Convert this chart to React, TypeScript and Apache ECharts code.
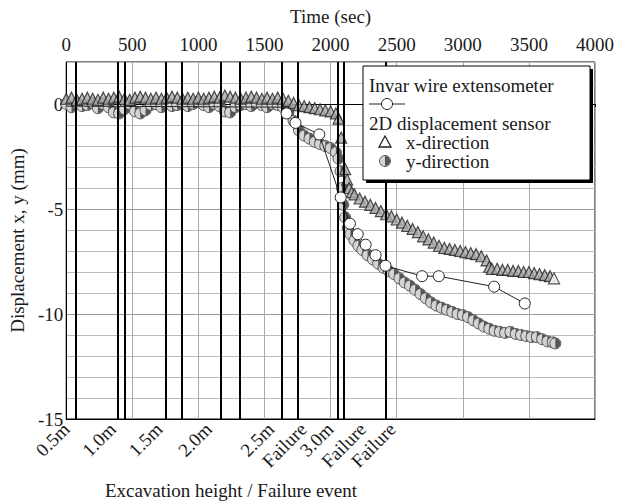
import React, { useEffect, useRef } from "react";
import * as echarts from "echarts";

const FONT = '"Liberation Serif", "Times New Roman", serif';
const TXT = "#1a1a1a";

// Top axis (time) ticks
const timeTicks = [0, 500, 1000, 1500, 2000, 2500, 3000, 3500, 4000];

// Excavation / failure event lines (time, sec)
const eventLineTimes = [75, 386, 441, 755, 872, 1171, 1316, 1628, 1750, 2056, 2099, 2417];

// Bottom-axis labels (time position, text)
const eventLabelTimes = [0, 351, 703, 1077, 1548, 1794, 1996, 2243, 2467];
const eventLabelTexts = ["0.5m", "1.0m", "1.5m", "2.0m", "2.5m", "Failure", "3.0m", "Failure", "Failure"];

// 2D displacement sensor, x-direction [time, mm]
const xDirection: number[][] = [
  [0, 0.25], [40, 0.3], [80, 0.2], [120, 0.25], [160, 0.3], [200, 0.25], [240, 0.2], [280, 0.3],
  [320, 0.25], [360, 0.3], [400, 0.35], [440, 0.25], [480, 0.2], [520, 0.3], [560, 0.35], [600, 0.3],
  [640, 0.25], [680, 0.3], [720, 0.25], [760, 0.3], [800, 0.35], [840, 0.3], [880, 0.25], [920, 0.3],
  [960, 0.25], [1000, 0.3], [1040, 0.25], [1080, 0.3], [1120, 0.35], [1160, 0.3], [1200, 0.4], [1240, 0.35],
  [1280, 0.3], [1320, 0.25], [1360, 0.3], [1400, 0.35], [1440, 0.3], [1480, 0.25], [1520, 0.3], [1560, 0.25],
  [1600, 0.3], [1640, 0.25], [1680, 0.15], [1720, 0.05], [1760, -0.05], [1800, -0.1], [1840, -0.15], [1880, -0.2],
  [1920, -0.25], [1960, -0.3], [2000, -0.35], [2040, -0.45], [2060, -0.7], [2080, -1.6], [2110, -3.1],
  [2125, -3.6], [2140, -4.0], [2160, -4.2], [2180, -4.3], [2220, -4.5], [2260, -4.65], [2300, -4.8],
  [2340, -4.95], [2380, -5.1], [2420, -5.25], [2460, -5.35], [2500, -5.5], [2540, -5.65], [2580, -5.8],
  [2620, -5.95], [2660, -6.1], [2700, -6.3], [2740, -6.45], [2780, -6.6], [2820, -6.75], [2860, -6.85],
  [2900, -6.9], [2940, -6.95], [2980, -7.0], [3020, -7.05], [3060, -7.1], [3100, -7.15], [3140, -7.25],
  [3180, -7.45], [3200, -7.75], [3220, -7.85], [3260, -7.85], [3300, -7.9], [3340, -7.9], [3380, -7.95],
  [3420, -7.95], [3460, -8.0], [3500, -8.0], [3540, -8.05], [3580, -8.1], [3620, -8.15], [3660, -8.2],
  [3690, -8.3],
];

// 2D displacement sensor, y-direction [time, mm]
const yDirection: number[][] = [
  [0, 0.0], [40, -0.15], [80, 0.05], [120, -0.1], [160, -0.05], [200, 0.05], [240, -0.2], [280, 0.0],
  [320, -0.15], [360, -0.4], [400, -0.45], [440, -0.25], [480, 0.0], [520, -0.35], [560, -0.45], [600, -0.3],
  [640, -0.05], [680, 0.0], [720, -0.15], [760, 0.05], [800, -0.1], [840, -0.05], [880, 0.05], [920, -0.1],
  [960, 0.0], [1000, 0.1], [1040, -0.05], [1080, -0.15], [1120, 0.0], [1160, -0.1], [1200, -0.35], [1240, -0.4],
  [1280, -0.15], [1320, -0.05], [1360, 0.0], [1400, -0.1], [1440, 0.05], [1480, -0.05], [1520, -0.15], [1560, 0.0],
  [1600, -0.05], [1640, -0.15], [1680, -0.4], [1720, -0.8], [1760, -1.25], [1800, -1.5], [1840, -1.65], [1880, -1.8],
  [1920, -1.9], [1960, -2.0], [2000, -2.1], [2040, -2.3], [2060, -2.6], [2075, -3.2], [2085, -4.0], [2095, -4.8],
  [2110, -5.4], [2130, -5.9], [2150, -6.2], [2180, -6.5], [2210, -6.75], [2240, -6.95], [2280, -7.2], [2320, -7.4],
  [2360, -7.6], [2400, -7.8], [2440, -7.95], [2480, -8.1], [2520, -8.3], [2560, -8.5], [2600, -8.65], [2640, -8.85],
  [2680, -9.05], [2720, -9.25], [2760, -9.45], [2800, -9.6], [2840, -9.7], [2880, -9.8], [2920, -9.9], [2960, -10.0],
  [3000, -10.05], [3040, -10.15], [3080, -10.3], [3120, -10.45], [3160, -10.6], [3200, -10.7], [3240, -10.8],
  [3280, -10.85], [3320, -10.9], [3360, -10.85], [3400, -10.95], [3440, -11.0], [3480, -11.05], [3520, -11.1],
  [3560, -11.1], [3600, -11.2], [3640, -11.3], [3680, -11.35], [3700, -11.4],
];

// Invar wire extensometer [time, mm] (first two points carry only the line)
const invarHidden: number[][] = [[0, -0.1], [1640, -0.15]];
const invarPoints: number[][] = [
  [1667, -0.45], [1734, -0.9], [1914, -1.45], [2076, -4.45], [2146, -5.7], [2205, -6.2],
  [2265, -6.7], [2340, -7.2], [2415, -7.7], [2692, -8.2], [2818, -8.2], [3237, -8.7], [3469, -9.5],
];

function halfCircle(cx: number, cy: number, r: number, z?: number) {
  const zz = z === undefined ? {} : { z };
  return [
    { type: "circle", ...zz, shape: { cx, cy, r }, style: { fill: "#d4d4d4", stroke: "#4a4a4a", lineWidth: 0.9 } },
    {
      type: "sector",
      ...zz,
      shape: { cx, cy, r: r - 0.4, r0: 0, startAngle: -Math.PI / 2, endAngle: Math.PI / 2, clockwise: true },
      style: { fill: "#555" },
    },
  ];
}

export default function App() {
  const ref = useRef<HTMLDivElement>(null);
  useEffect(() => {
    if (!ref.current) return;
    const chart = echarts.init(ref.current, null, { renderer: "svg" });
    const axisFont = { fontFamily: FONT, fontSize: 19, color: TXT };
    const gfont = `19px ${FONT}`;

    const invarData = [
      ...invarHidden.map((p) => ({ value: p, symbol: "none" })),
      ...invarPoints.map((p) => ({ value: p })),
    ];

    const xData = xDirection.map((p, i) =>
      i === xDirection.length - 1 ? { value: p, itemStyle: { color: "#fff" } } : { value: p }
    );

    const option: any = {
      animation: false,
      backgroundColor: "#fff",
      grid: { left: 60, right: 33, top: 62, bottom: 85, show: true, borderColor: "#000", borderWidth: 1, backgroundColor: "transparent" },
      xAxis: [
        {
          type: "value",
          position: "top",
          min: 0,
          max: 4000,
          interval: 500,
          name: "Time (sec)",
          nameLocation: "middle",
          nameGap: 36,
          nameTextStyle: axisFont,
          axisLine: { show: true, lineStyle: { color: "#000", width: 1 } },
          axisTick: { show: true, inside: true, length: 3, lineStyle: { color: "#000" } },
          axisLabel: { ...axisFont, margin: 8, formatter: (v: number) => (timeTicks.includes(v) ? String(v) : "") },
          splitLine: { show: true, lineStyle: { color: "#aaa", width: 1 } },
        },
        {
          type: "value",
          position: "bottom",
          min: 0,
          max: 4000,
          axisLine: { show: true, lineStyle: { color: "#000", width: 1 } },
          axisTick: { show: false },
          splitLine: { show: false },
          axisLabel: {
            ...axisFont,
            customValues: eventLabelTimes,
            rotate: 45,
            margin: 7,
            formatter: (v: number) => {
              const i = eventLabelTimes.indexOf(v);
              return i >= 0 ? eventLabelTexts[i] : "";
            },
          },
        },
      ],
      yAxis: {
        type: "value",
        min: -15,
        max: 2,
        interval: 1,
        name: "Displacement x, y (mm)",
        nameLocation: "middle",
        nameGap: 37,
        nameTextStyle: axisFont,
        axisLine: { show: true, lineStyle: { color: "#000" } },
        axisTick: { show: false },
        axisLabel: { ...axisFont, margin: 3, formatter: (v: number) => (v % 5 === 0 ? String(v) : "") },
        splitLine: { show: true, lineStyle: { color: ["#999", "#bbb", "#bbb", "#bbb", "#bbb"], width: 1 } },
      },
      series: [
        {
          type: "line",
          xAxisIndex: 0,
          data: [[0, -20]],
          showSymbol: false,
          lineStyle: { opacity: 0 },
          z: 1,
          silent: true,
          markLine: {
            silent: true,
            symbol: ["none", "none"],
            label: { show: false },
            lineStyle: { color: "#000", width: 2, type: "solid" },
            data: eventLineTimes.map((t) => ({ xAxis: t })),
          },
        },
        {
          type: "custom",
          name: "y-direction",
          xAxisIndex: 0,
          z: 3,
          data: yDirection,
          encode: { x: 0, y: 1 },
          renderItem: (params: any, api: any) => {
            const p = api.coord([api.value(0), api.value(1)]);
            return { type: "group", children: halfCircle(p[0], p[1], 5.5) };
          },
        },
        {
          type: "scatter",
          name: "x-direction",
          xAxisIndex: 0,
          z: 4,
          data: xData,
          symbol: "triangle",
          symbolSize: 11,
          itemStyle: { color: "#aaa", borderColor: "#222", borderWidth: 1.2 },
        },
        {
          type: "line",
          name: "Invar wire extensometer",
          xAxisIndex: 0,
          z: 5,
          data: invarData,
          symbol: "circle",
          symbolSize: 11,
          showAllSymbol: true,
          lineStyle: { color: "#222", width: 1 },
          itemStyle: { color: "#fff", borderColor: "#222", borderWidth: 1 },
        },
      ],
      graphic: [
        { type: "rect", z: 100, shape: { x: 366, y: 69, width: 227, height: 114 }, style: { fill: "#000" } },
        { type: "rect", z: 101, shape: { x: 363, y: 66, width: 227, height: 114 }, style: { fill: "#fff", stroke: "#000", lineWidth: 1 } },
        { type: "text", z: 102, style: { text: "Invar wire extensometer", x: 369, y: 85, font: gfont, fill: TXT, verticalAlign: "middle" } },
        { type: "line", z: 102, shape: { x1: 369, y1: 104, x2: 405, y2: 104 }, style: { stroke: "#222", lineWidth: 1 } },
        { type: "circle", z: 103, shape: { cx: 387, cy: 104, r: 5.5 }, style: { fill: "#fff", stroke: "#222", lineWidth: 1 } },
        { type: "text", z: 102, style: { text: "2D displacement sensor", x: 369, y: 123, font: gfont, fill: TXT, verticalAlign: "middle" } },
        { type: "polygon", z: 102, shape: { points: [[385, 136], [391, 147], [379, 147]] }, style: { fill: "#fff", stroke: "#222", lineWidth: 1.3 } },
        { type: "text", z: 102, style: { text: "x-direction", x: 406, y: 142, font: gfont, fill: TXT, verticalAlign: "middle" } },
        ...halfCircle(385, 161, 5.5, 103),
        { type: "text", z: 102, style: { text: "y-direction", x: 406, y: 161, font: gfont, fill: TXT, verticalAlign: "middle" } },
        { type: "text", z: 102, style: { text: "Excavation height / Failure event", x: 231, y: 490, font: gfont, fill: TXT, align: "center", verticalAlign: "middle" } },
      ],
    };
    chart.setOption(option);
    return () => chart.dispose();
  }, []);
  return <div ref={ref} style={{ position: "fixed", left: 0, top: 0, width: 628, height: 504, background: "#fff" }} />;
}
